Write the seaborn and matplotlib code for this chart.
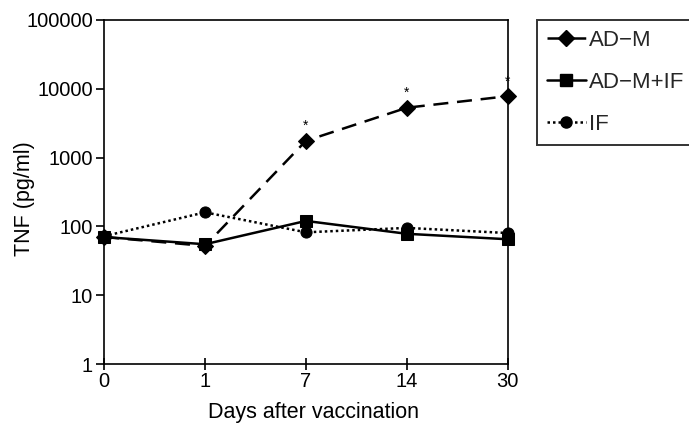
import matplotlib
matplotlib.use("Agg")
import matplotlib.pyplot as plt
import seaborn as sns
import pandas as pd
from matplotlib.lines import Line2D

days = ["0", "1", "7", "14", "30"]
series_names = ["AD\u2212M", "AD\u2212M+IF", "IF"]
adm = [70, 52, 1750, 5300, 7800]
adm_if = [70, 55, 120, 78, 65]
if_only = [72, 160, 82, 95, 80]
star_days = ["7", "14", "30"]

sns.set_theme(style="white")
plt.rcParams["font.family"] = ["Liberation Sans", "DejaVu Sans"]

pos = list(range(len(days)))
rows = []
for name, vals in zip(series_names, [adm, adm_if, if_only]):
    for p, v in zip(pos, vals):
        rows.append({"day": p, "TNF": v, "series": name})
df = pd.DataFrame(rows)

fig = plt.figure(figsize=(6.89, 4.24), dpi=100)
ax = fig.add_axes([0.151, 0.1415, 0.586, 0.8115])

markers = {series_names[0]: "D", series_names[1]: "s", series_names[2]: "o"}
dashes = {series_names[0]: (6, 3.5), series_names[1]: "", series_names[2]: (1, 1.2)}
palette = {n: "black" for n in series_names}

sns.lineplot(data=df, x="day", y="TNF", hue="series", style="series",
             markers=markers, dashes=dashes, palette=palette,
             linewidth=1.8, markersize=8, markeredgecolor="black",
             legend=False, ax=ax, clip_on=False)

ax.set_yscale("log")
ax.set_ylim(1, 100000)
ax.set_xlim(0, len(days) - 1)
ax.set_yticks([1, 10, 100, 1000, 10000, 100000])
ax.set_yticklabels(["1", "10", "100", "1000", "10000", "100000"])
ax.minorticks_off()
ax.set_xticks(pos)
ax.set_xticklabels(days)

for d in star_days:
    i = days.index(d)
    ax.text(pos[i], adm[i] * 1.3, "*", ha="center", va="bottom", fontsize=10, color="black")

for s in ax.spines.values():
    s.set_color("black")
    s.set_linewidth(1.2)
ax.tick_params(axis="y", direction="out", length=6, width=1.2, color="black",
               labelsize=14.5, labelcolor="black", left=True, pad=2)
ax.tick_params(axis="x", direction="inout", length=9, width=1.2, color="black",
               labelsize=14.5, labelcolor="black", bottom=True, pad=1)
ax.set_xlabel("Days after vaccination", fontsize=15.5, color="black")
ax.set_ylabel("TNF (pg/ml)", fontsize=15.5, color="black")
ax.xaxis.set_label_coords(0.52, -0.11)
ax.yaxis.set_label_coords(-0.171, 0.48)

handles = [
    Line2D([], [], color="black", marker="D", linestyle=(0, (6, 3.5)), linewidth=1.8, markersize=8),
    Line2D([], [], color="black", marker="s", linestyle="-", linewidth=1.8, markersize=8),
    Line2D([], [], color="black", marker="o", linestyle=(0, (1, 1.2)), linewidth=1.8, markersize=8),
]
leg = ax.legend(handles, series_names, loc="upper left", bbox_to_anchor=(1.072, 1.0),
                frameon=True, fancybox=False, edgecolor="black", fontsize=16,
                handlelength=1.75, handletextpad=0.15, labelspacing=0.95,
                borderpad=0.45, borderaxespad=0)
leg.get_frame().set_linewidth(1.4)

fig.savefig("out.png", dpi=100)
